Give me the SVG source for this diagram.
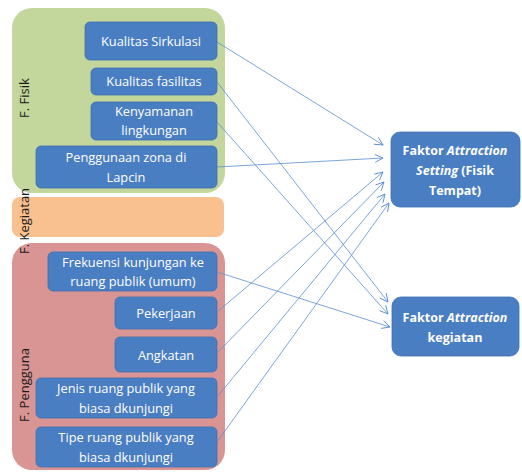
<svg xmlns="http://www.w3.org/2000/svg" width="522" height="472" viewBox="0 0 522 472">
<defs>
<marker id="arr" markerWidth="10" markerHeight="10" refX="9" refY="5" orient="auto" markerUnits="userSpaceOnUse">
<path d="M1,1 L9,5 L1,9" fill="none" stroke="#5b8fd0" stroke-width="0.9"/>
</marker>
</defs>
<style>
.panel{stroke:none}
.box{fill:#4a7ec2;stroke:#3f6fae;stroke-width:0.8}
.t{font-family:"Open Sans","Noto Sans",sans-serif;font-size:12.8px;fill:#ffffff;text-anchor:middle;dominant-baseline:central}
.tb{font-family:"Open Sans","Noto Sans",sans-serif;font-size:12.5px;font-weight:bold;fill:#ffffff;text-anchor:middle;dominant-baseline:central}
.lab{font-family:"Open Sans","Noto Sans",sans-serif;font-size:13px;fill:#1a1a1a;text-anchor:middle;dominant-baseline:central}
.c{fill:none;stroke:#5b8fd0;stroke-width:0.8;marker-end:url(#arr)}
</style>
<rect width="522" height="472" fill="#ffffff"/>
<g id="panel-fisik">
<rect class="panel" x="12" y="8" width="213" height="185" rx="20" fill="#c3d69b"/>
<text class="lab" transform="translate(24,98) rotate(-90)">F. Fisik</text>
</g>
<g id="panel-kegiatan">
<rect class="panel" x="12" y="197" width="212" height="40" rx="8" fill="#f9c090"/>
</g>
<g id="panel-pengguna">
<rect class="panel" x="12" y="243" width="213" height="227" rx="20" fill="#d99594"/>
<text class="lab" transform="translate(24,385) rotate(-90)">F. Pengguna</text>
</g>
<text class="lab" transform="translate(24,221) rotate(-90)">F. Kegiatan</text>
<g id="n-sirkulasi">
<rect class="box" x="85" y="22" width="132" height="38" rx="5"/>
<text class="t" x="151" y="41">Kualitas Sirkulasi</text>
</g>
<g id="n-fasilitas">
<rect class="box" x="91" y="68" width="126" height="27" rx="5"/>
<text class="t" x="154" y="81">Kualitas fasilitas</text>
</g>
<g id="n-kenyamanan">
<rect class="box" x="91" y="102" width="126" height="38" rx="5"/>
<text class="t" x="154" y="111">Kenyamanan</text>
<text class="t" x="154" y="130">lingkungan</text>
</g>
<g id="n-penggunaan">
<rect class="box" x="36" y="146" width="181" height="42" rx="5"/>
<text class="t" x="126" y="157">Penggunaan zona di</text>
<text class="t" x="126" y="177">Lapcin</text>
</g>
<g id="n-frekuensi">
<rect class="box" x="48" y="252" width="169" height="39" rx="5"/>
<text class="t" x="133" y="262">Frekuensi kunjungan ke</text>
<text class="t" x="133" y="281">ruang publik (umum)</text>
</g>
<g id="n-pekerjaan">
<rect class="box" x="115" y="297" width="102" height="32" rx="5"/>
<text class="t" x="166" y="313">Pekerjaan</text>
</g>
<g id="n-angkatan">
<rect class="box" x="115" y="337" width="102" height="35" rx="5"/>
<text class="t" x="166" y="355">Angkatan</text>
</g>
<g id="n-jenis">
<rect class="box" x="36" y="378" width="181" height="40" rx="5"/>
<text class="t" x="126" y="388">Jenis ruang publik yang</text>
<text class="t" x="126" y="408">biasa dkunjungi</text>
</g>
<g id="n-tipe">
<rect class="box" x="36" y="427" width="181" height="40" rx="5"/>
<text class="t" x="126" y="437">Tipe ruang publik yang</text>
<text class="t" x="126" y="457">biasa dkunjungi</text>
</g>
<g id="n-setting">
<rect class="box" x="391" y="132" width="129" height="75" rx="9"/>
<text class="tb" x="455" y="150">Faktor <tspan font-style="italic">Attraction</tspan></text>
<text class="tb" x="455" y="170"><tspan font-style="italic">Setting</tspan> (Fisik</text>
<text class="tb" x="455" y="190">Tempat)</text>
</g>
<g id="n-kegiatan">
<rect class="box" x="392" y="297" width="127" height="59" rx="9"/>
<text class="tb" x="455" y="317">Faktor <tspan font-style="italic">Attraction</tspan></text>
<text class="tb" x="455" y="337">kegiatan</text>
</g>
<g id="connectors">
<line class="c" x1="217" y1="42" x2="383" y2="145"/>
<line class="c" x1="217" y1="167" x2="383" y2="158"/>
<line class="c" x1="217" y1="312" x2="383" y2="172"/>
<line class="c" x1="217" y1="353" x2="384" y2="182"/>
<line class="c" x1="217" y1="397" x2="385" y2="194"/>
<line class="c" x1="217" y1="442" x2="389" y2="203"/>
<line class="c" x1="217" y1="82" x2="388" y2="302"/>
<line class="c" x1="217" y1="122" x2="388" y2="314"/>
<line class="c" x1="217" y1="272" x2="390" y2="327"/>
</g>
</svg>
